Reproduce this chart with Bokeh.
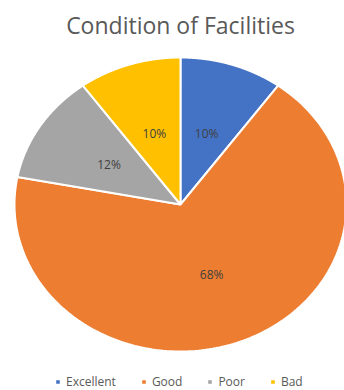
import numpy as np
from bokeh.plotting import figure
from bokeh.models import Range1d, Label, Legend, LegendItem
from bokeh.core.properties import value
from bokeh.embed import file_html
from bokeh.resources import INLINE

title = "Condition of Facilities"
categories = ["Excellent", "Good", "Poor", "Bad"]
values = [10, 68, 12, 10]
colors = ["#4472C4", "#ED7D31", "#A5A5A5", "#FFC000"]

W, H = 344, 390
cx_px, cy_px = 180, 204      # pie centre in frame pixels (from left, from top)
rx_px, ry_px = 166, 147      # ellipse radii in pixels

p = figure(width=W, height=H, output_backend="svg", toolbar_location=None,
           min_border=0, x_axis_type=None, y_axis_type=None,
           x_range=Range1d(-cx_px / rx_px, (W - cx_px) / rx_px),
           y_range=Range1d(-(H - cy_px) / ry_px, cy_px / ry_px))
p.grid.visible = False
p.outline_line_color = None
p.background_fill_color = "white"

total = float(sum(values))
fracs = np.array(values) / total
ends = np.pi / 2 - 2 * np.pi * np.cumsum(fracs)
starts = np.concatenate([[np.pi / 2], ends[:-1]])

xs, ys, lx, ly, labels = [], [], [], [], []
for s, e, f in zip(starts, ends, fracs):
    t = np.linspace(s, e, 200)
    xs.append(np.concatenate([[0.0], np.cos(t), [0.0]]))
    ys.append(np.concatenate([[0.0], np.sin(t), [0.0]]))
    m = (s + e) / 2
    lx.append(0.51 * np.cos(m))
    ly.append(0.51 * np.sin(m))
    labels.append(f"{round(f * 100):d}%")

renderers = []
for i in range(len(categories)):
    r = p.patches(xs=[xs[i]], ys=[ys[i]], fill_color=colors[i],
                  line_color="white", line_width=2)
    renderers.append(r)

p.text(x=lx, y=ly, text=labels, text_align="center", text_baseline="middle",
       text_font_size="12px", text_color="#404040",
       text_font=value("Open Sans"))

p.add_layout(Label(x=cx_px, y=H - 24, x_units="screen", y_units="screen",
                   text=title, text_align="center", text_baseline="middle",
                   text_font_size="23px", text_color="#595959",
                   text_font="Open Sans"))

legend = Legend(items=[LegendItem(label=c, renderers=[r]) for c, r in zip(categories, renderers)],
                orientation="horizontal", location=(54, 0),
                glyph_width=7, glyph_height=7, label_standoff=5, spacing=24,
                label_text_font_size="12px", label_text_color="#595959",
                label_text_font="Open Sans", border_line_color=None,
                background_fill_alpha=0, padding=0, margin=0)
p.add_layout(legend, "center")

open("out.html", "w").write(file_html(p, INLINE))
